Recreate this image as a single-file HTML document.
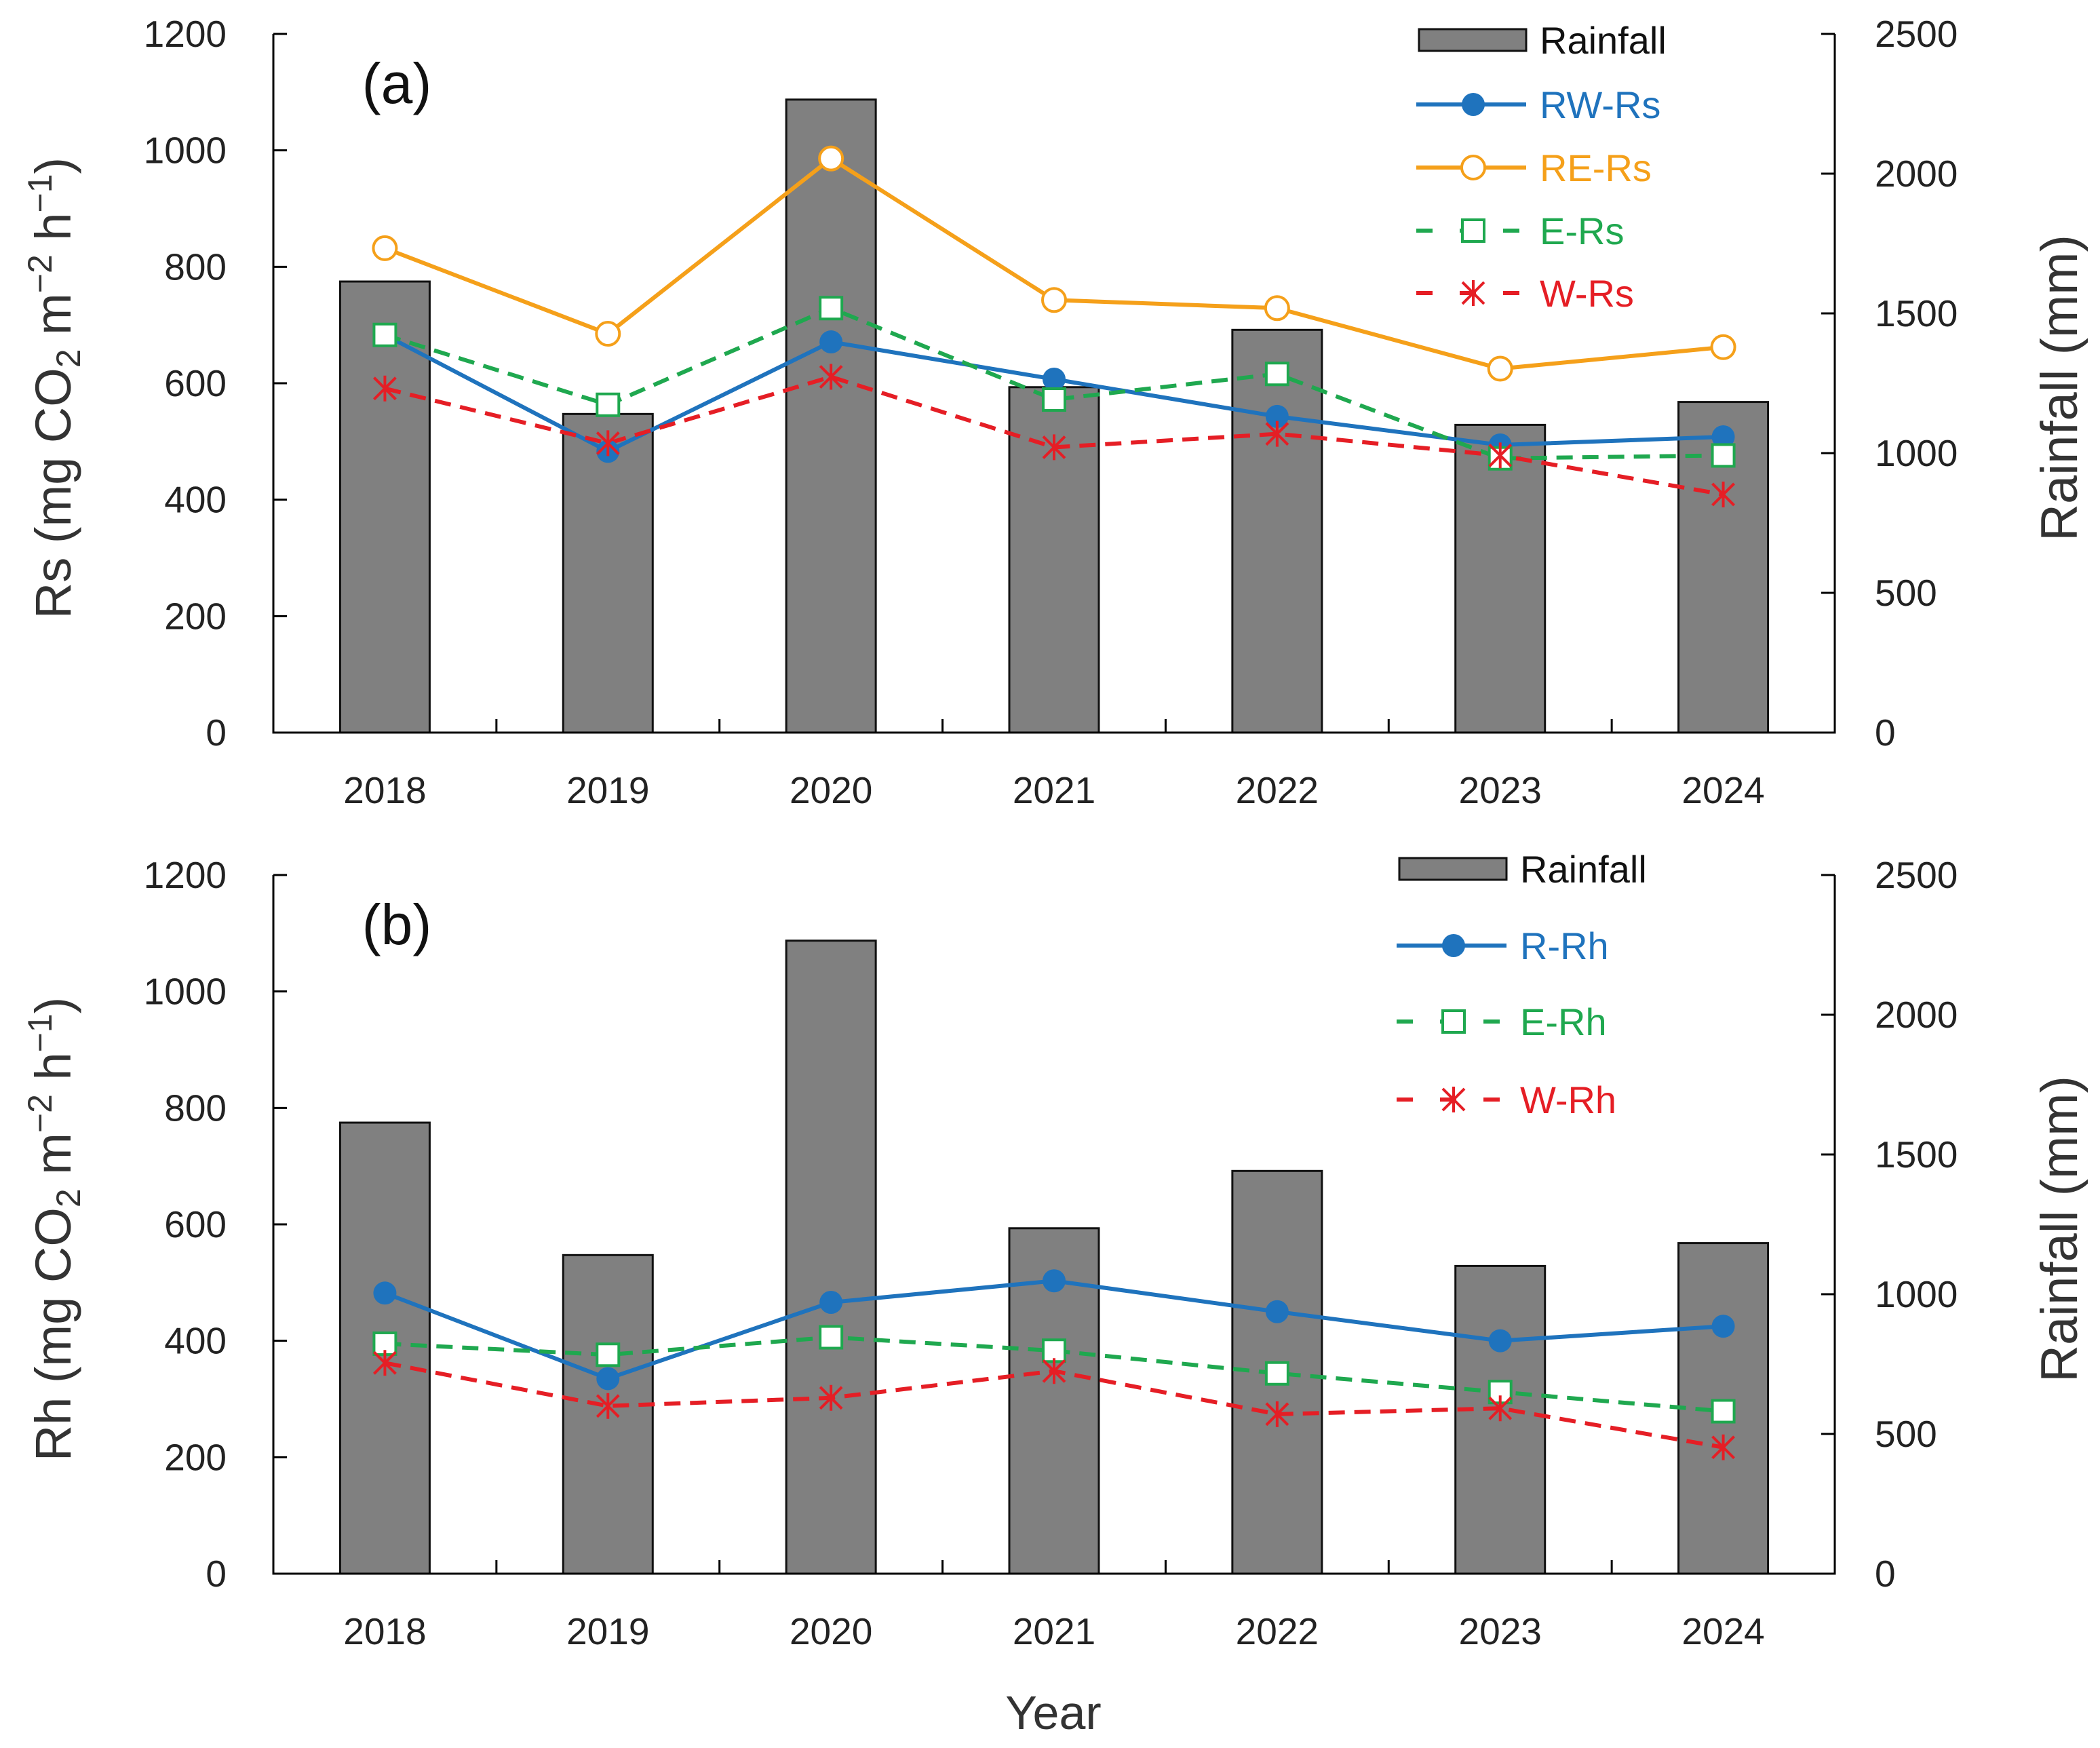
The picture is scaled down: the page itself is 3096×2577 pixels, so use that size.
<!DOCTYPE html>
<html><head><meta charset="utf-8"><style>
html,body{margin:0;padding:0;background:#fff}
svg{display:block}
text{font-family:"Liberation Sans","DejaVu Sans",sans-serif}
</style></head><body>
<svg id="chart" width="3096" height="2577" viewBox="0 0 3096 2577" xmlns="http://www.w3.org/2000/svg">
<rect width="3096" height="2577" fill="#fff"/>
</svg>
<script>
const years = ['2018','2019','2020','2021','2022','2023','2024'];
const rainfall = [1614,1140,2265,1236,1441,1101,1183];
const rwRs = [683,483,671,607,543,494,508];
const reRs = [832,685,986,743,729,625,662];
const eRs = [683,563,729,572,616,471,476];
const wRs = [591,497,611,490,513,476,409];
const rRh = [482,335,466,503,450,400,425];
const eRh = [395,376,406,383,344,312,279];
const wRh = [362,288,302,348,274,284,217];
const leftTicks = [0,200,400,600,800,1000,1200];
const rightTicks = [0,500,1000,1500,2000,2500];

const NS='http://www.w3.org/2000/svg';
const svg=document.getElementById('chart');
function mk(tag,attrs,parent){const e=document.createElementNS(NS,tag);for(const k in attrs)e.setAttribute(k,attrs[k]);(parent||svg).appendChild(e);return e;}
const X0=403,X1=2705,LMAX=1200,RMAX=2500;
const bw=(X1-X0)/years.length;
function xs(i){return X0+bw*(i+0.5);}
const C={blue:'#1f73bd',orange:'#f5a01a',green:'#1fa84f',red:'#e51e25'};

function marker(g,type,x,y,col){
  if(type==='dot'){const m=mk('circle',{cx:x,cy:y,r:17,fill:col},g);}
  else if(type==='circle'){const m=mk('circle',{cx:x,cy:y,r:17,fill:'#fff',stroke:col,'stroke-width':4},g);}
  else if(type==='square'){const m=mk('rect',{x:x-16,y:y-16,width:32,height:32,fill:'#fff',stroke:col,'stroke-width':4},g);}
  else {const s=16;const p=mk('path',{d:`M${x-s} ${y-s}L${x+s} ${y+s}M${x-s} ${y+s}L${x+s} ${y-s}M${x} ${y-s-3}L${x} ${y+s+3}`,stroke:col,'stroke-width':4,fill:'none'},g);}
}

function panel(top,label,leftTitle,series,legendX,legendY,rowYs){
  const Y0=top+1030,Y1=top;
  const yl=v=>Y0-(v/LMAX)*(Y0-Y1);
  const yr=v=>Y0-(v/RMAX)*(Y0-Y1);
  const g=mk('g',{});
  
  
  rainfall.forEach((v,i)=>{
    const b=mk('rect',{x:xs(i)-66,y:yr(v),width:132,height:Y0-yr(v),fill:'#808080',stroke:'#111','stroke-width':3},g);
    
    
  });
  const ax=mk('path',{d:`M${X0} ${Y1}L${X0} ${Y0}L${X1} ${Y0}L${X1} ${Y1}`,stroke:'#000','stroke-width':3,fill:'none'},g);
  
  
  leftTicks.forEach(t=>{
    mk('line',{x1:X0,x2:X0+20,y1:yl(t),y2:yl(t),stroke:'#000','stroke-width':3},g);
    const tx=mk('text',{x:334,y:yl(t)+19,'text-anchor':'end','font-size':55,fill:'#222'},g);tx.textContent=t;
    
    
  });
  rightTicks.forEach(t=>{
    mk('line',{x1:X1-20,x2:X1,y1:yr(t),y2:yr(t),stroke:'#000','stroke-width':3},g);
    const tx=mk('text',{x:2764,y:yr(t)+19,'font-size':55,fill:'#222'},g);tx.textContent=t;
    
    
  });
  for(let i=1;i<years.length;i++){mk('line',{x1:X0+bw*i,x2:X0+bw*i,y1:Y0,y2:Y0-20,stroke:'#000','stroke-width':3},g);}
  years.forEach((y,i)=>{
    const tx=mk('text',{x:xs(i),y:Y0+104,'text-anchor':'middle','font-size':55,fill:'#222'},g);tx.textContent=y;
    
    
  });
  series.forEach(s=>{
    const pts=s.data.map((v,i)=>xs(i)+','+yl(v)).join(' ');
    const pl=mk('polyline',{points:pts,fill:'none',stroke:s.col,'stroke-width':6,'stroke-dasharray':s.dash?'24 14':'none'},g);
    
    
  });
  series.forEach(s=>{s.data.forEach((v,i)=>marker(g,s.m,xs(i),yl(v),s.col));});
  const pt=mk('text',{x:585,y:Y1+102,'text-anchor':'middle','font-size':84,fill:'#111'},g);pt.textContent='('+label+')';
  
  
  const lt=mk('text',{transform:`translate(104 ${top+522}) rotate(-90)`,'text-anchor':'middle','font-size':74,fill:'#333'},g);
  lt.innerHTML=leftTitle+' (mg CO<tspan font-size="50" dy="14">2</tspan><tspan dy="-14"> m</tspan><tspan font-size="50" dy="-28">−2</tspan><tspan dy="28"> h</tspan><tspan font-size="50" dy="-28">−1</tspan><tspan dy="28">)</tspan>';
  
  
  const rt=mk('text',{transform:`translate(3062 ${top+522}) rotate(-90)`,'text-anchor':'middle','font-size':76,fill:'#333'},g);rt.textContent='Rainfall (mm)';
  
  
  const lg=mk('g',{},g);
  
  
  mk('rect',{x:legendX,y:legendY-16,width:158,height:32,fill:'#808080',stroke:'#111','stroke-width':3},lg);
  const rtx=mk('text',{x:legendX+178,y:legendY+20,'font-size':56,fill:'#111'},lg);rtx.textContent='Rainfall';
  
  
  series.forEach((s,k)=>{
    const ly=rowYs[k];
    mk('line',{x1:legendX-4,x2:legendX+158,y1:ly,y2:ly,stroke:s.col,'stroke-width':6,'stroke-dasharray':s.dash?'24 40':'none'},lg);
    marker(lg,s.m,legendX+80,ly,s.col);
    const t=mk('text',{x:legendX+178,y:ly+20,'font-size':56,fill:s.col},lg);t.textContent=s.name;
    
    
  });
}
panel(50,'a','Rs',[
  {name:'RW-Rs',data:rwRs,col:C.blue,m:'dot',dash:false},
  {name:'RE-Rs',data:reRs,col:C.orange,m:'circle',dash:false},
  {name:'E-Rs',data:eRs,col:C.green,m:'square',dash:true},
  {name:'W-Rs',data:wRs,col:C.red,m:'star',dash:true}
],2092,59,[154,247,340,432]);
panel(1290,'b','Rh',[
  {name:'R-Rh',data:rRh,col:C.blue,m:'dot',dash:false},
  {name:'E-Rh',data:eRh,col:C.green,m:'square',dash:true},
  {name:'W-Rh',data:wRh,col:C.red,m:'star',dash:true}
],2063,1281,[1394,1506,1621]);
const yt=mk('text',{x:1553,y:2549,'text-anchor':'middle','font-size':70,fill:'#333'});
yt.textContent='Year';


</script>
</body></html>
